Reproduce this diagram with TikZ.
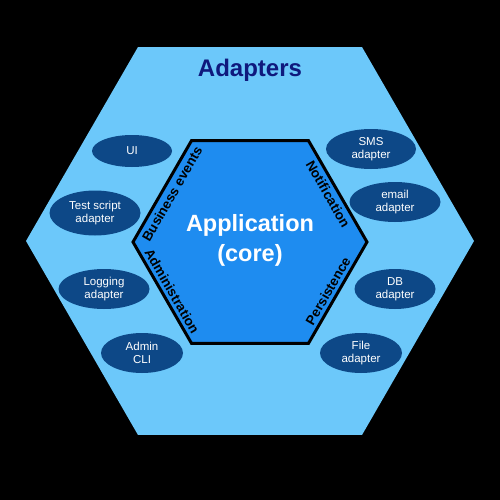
\documentclass[tikz,border=0pt]{standalone}
\usepackage{fontspec}
\setmainfont{Liberation Sans}
\usepackage{xcolor}
\usepackage{tikz}
\usetikzlibrary{shapes.geometric}

\definecolor{outerblue}{RGB}{108,200,250}
\definecolor{coreblue}{RGB}{30,140,240}
\definecolor{adapterblue}{RGB}{13,72,135}
\definecolor{titleblue}{RGB}{15,25,125}

\begin{document}
\begin{tikzpicture}[x=1pt, y=-1pt,
	adapter/.style={ellipse, fill=adapterblue, text=white, minimum width=86, minimum height=40, inner sep=0, align=center, font=\fontsize{11.5}{13}\selectfont},
	port/.style={font=\bfseries\fontsize{13.5}{14}\selectfont, inner sep=0},
	corebox/.style={text=white, align=center, font=\bfseries\fontsize{23.5}{30}\selectfont}
]
\fill[black] (0,0) rectangle (500,500);

\fill[outerblue] ([shift={(250,241)}]0:224) \foreach \a in {60,120,...,300} { -- ([shift={(250,241)}]\a:224)} -- cycle;
\filldraw[fill=coreblue, draw=black, line width=3, line join=miter] ([shift={(250,242)}]0:117) \foreach \a in {60,120,...,300} { -- ([shift={(250,242)}]\a:117)} -- cycle;

\node[text=titleblue, font=\bfseries\fontsize{24}{26}\selectfont] (title) at (250,70) {Adapters};
\node[corebox] (core) at (250,240) {Application\\(core)};

\node[port, rotate=60]  (business) at (172,194) {Business events};
\node[port, rotate=-60] (notify)   at (328,194) {Notification};
\node[port, rotate=-60] (admin)    at (172,291) {Administration};
\node[port, rotate=60]  (persist)  at (328,291) {Persistence};

\node[adapter, minimum width=80, minimum height=32] (ui) at (132,151) {UI};
\node[adapter, minimum width=91, minimum height=45] (test) at (95,213) {Test script\\adapter};
\node[adapter, minimum width=91] (logging) at (104,289) {Logging\\adapter};
\node[adapter, minimum width=82] (cli) at (142,353) {Admin\\CLI};

\node[adapter, minimum width=90] (sms) at (371,149) {SMS\\adapter};
\node[adapter, minimum width=91] (email) at (395,202) {email\\adapter};
\node[adapter, minimum width=81] (db) at (395,289) {DB\\adapter};
\node[adapter, minimum width=82] (file) at (361,353) {File\\adapter};
\end{tikzpicture}
\end{document}
